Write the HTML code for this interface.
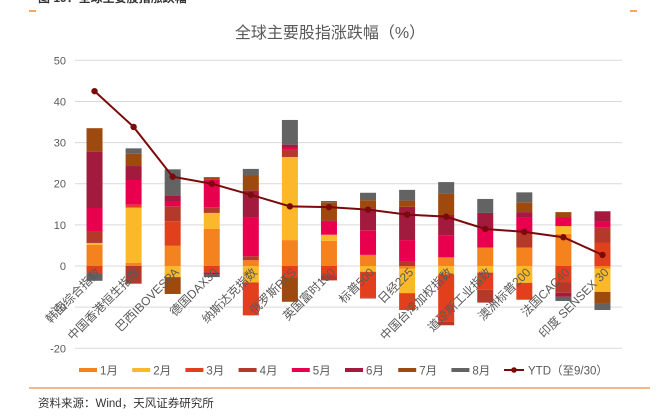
<!DOCTYPE html>
<html><head><meta charset="utf-8"><style>
body{margin:0;background:#fff;width:659px;height:415px;overflow:hidden;font-family:"Liberation Sans","Noto Sans CJK SC",sans-serif}
</style></head><body>
<svg width="659" height="415" xmlns="http://www.w3.org/2000/svg" font-family="Liberation Sans, Noto Sans CJK SC, sans-serif">
<text x="38" y="2" font-size="12" font-weight="bold" fill="#333">图 19：全球主要股指涨跌幅</text>
<line x1="29" y1="11" x2="36" y2="11" stroke="#F08A2C" stroke-width="1.5"/>
<line x1="630" y1="11" x2="637" y2="11" stroke="#F08A2C" stroke-width="1.5"/>
<text x="330" y="38" font-size="16" fill="#595959" text-anchor="middle">全球主要股指涨跌幅（%）</text>
<g id="grid"></g><g id="bars"></g><g id="line"></g><g id="xlabels"></g>
<g id="legend"></g>
<line x1="29" y1="388" x2="650" y2="388" stroke="#F0A060" stroke-width="1.5"/>
<text x="38" y="407" font-size="11.5" fill="#333">资料来源：Wind，天风证券研究所</text>
</svg>
<script>
const categories=["韩国综合指数","中国香港恒生指数","巴西IBOVESPA","德国DAX30","纳斯达克指数","俄罗斯RTS","英国富时100","标普500","日经225","中国台湾加权指数","道琼斯工业指数","澳洲标普200","法国CAC40","印度 SENSEX 30"];
const seriesNames=["1月","2月","3月","4月","5月","6月","7月","8月"];
const m1=[5.1,0.8,4.9,9,1.4,6.3,6.1,2.7,-0.6,2.1,4.5,4.5,7.8,-0.6];
const m2=[0.5,13.4,-2.7,3.9,-4,20.2,1.5,-1.4,-6,-2,-1.6,-4.1,1.9,-5.7];
const m3=[-1.8,0.7,6,-1.6,-8,-2.8,-2.3,-6.2,-4.1,-11.6,-4.2,-4.1,-3.9,5.6];
const m4=[2.8,-4.3,3.6,1.4,1,1.8,-1.2,-0.3,1,-0.8,-3.1,3.8,-2.6,3.7];
const m5=[5.7,6,1.3,6.8,9.5,0.5,3.2,6,5.3,5.4,4.6,3.6,2.2,1.5];
const m6=[13.7,3.4,1.4,-0.5,6.5,0.7,0.3,5.3,8.1,4.9,3.8,1.2,-1,2.5];
const m7=[5.7,3,-4.1,0.5,3.6,-5.9,4.4,2,1.5,5.2,0,2.4,1.2,-2.7];
const m8=[-1.8,1.3,6.3,-0.6,1.6,6,0.3,1.8,2.6,2.8,3.4,2.4,-1,-1.7];
const ytd=[42.5,33.8,21.7,20,17.3,14.5,14.3,13.7,12.5,12,9,8.3,7,2.7];
const yTicks=[50,40,30,20,10,0,-10,-20];
const series=[m1,m2,m3,m4,m5,m6,m7,m8];
const colors=["#F4831F","#FBB82B","#E2401C","#B5392A","#E8004F","#A21B3E","#9E4A0E","#636363"];
const NS="http://www.w3.org/2000/svg";
const x0=75,x1=622,y0=266,k=4.114;
const band=(x1-x0)/categories.length;
const Y=v=>y0-v*k;
const X=i=>x0+band*(i+0.5);
function mk(t,a,p){const e=document.createElementNS(NS,t);for(const q in a)e.setAttribute(q,a[q]);p.appendChild(e);return e;}
const grid=document.getElementById('grid');
yTicks.forEach(t=>{
 const l=mk('line',{x1:x0,x2:x1,y1:Y(t),y2:Y(t),stroke:'#D9D9D9','stroke-width':1},grid);
 
 
 const tx=mk('text',{x:66,y:Y(t)+4,'font-size':11,fill:'#595959','text-anchor':'end'},grid);
 tx.textContent=t;
 
 
});
const bars=document.getElementById('bars');
categories.forEach((c,i)=>{
 let pos=0,neg=0;
 series.forEach((s,j)=>{
  const v=s[i];let a,b;
  if(v>=0){a=pos;b=pos+v;pos=b;}else{a=neg;b=neg+v;neg=b;}
  const r=mk('rect',{x:X(i)-8,width:16,y:Math.min(Y(a),Y(b)),height:Math.abs(Y(a)-Y(b)),fill:colors[j]},bars);
  
  
 });
 const lb=mk('text',{x:X(i)+7,y:273,'font-size':12,fill:'#595959','text-anchor':'end',transform:`rotate(-45 ${X(i)+7} 273)`},document.getElementById('xlabels'));
 lb.textContent=c;
 
 
});
const lg=document.getElementById('line');
const pl=mk('polyline',{points:ytd.map((v,i)=>X(i)+','+Y(v)).join(' '),fill:'none',stroke:'#7B0A0A','stroke-width':2},lg);


ytd.forEach((v,i)=>{
 const c=mk('circle',{cx:X(i),cy:Y(v),r:3.2,fill:'#7B0A0A'},lg);
 
 
});
const leg=document.getElementById('legend');
seriesNames.forEach((n,j)=>{
 const lx=79+j*53.2;
 const r=mk('rect',{x:lx,y:368,width:18,height:4,fill:colors[j]},leg);
 
 
 const t=mk('text',{x:lx+21,y:374.5,'font-size':11.5,fill:'#595959'},leg);
 t.textContent=n;
 
 
});
const yl=mk('line',{x1:504,x2:524,y1:370,y2:370,stroke:'#7B0A0A','stroke-width':2},leg);


const yc=mk('circle',{cx:514,cy:370,r:2.8,fill:'#7B0A0A'},leg);


const yt=mk('text',{x:528,y:374.5,'font-size':11.5,fill:'#595959'},leg);
yt.textContent='YTD（至9/30）';


</script>
</body></html>
